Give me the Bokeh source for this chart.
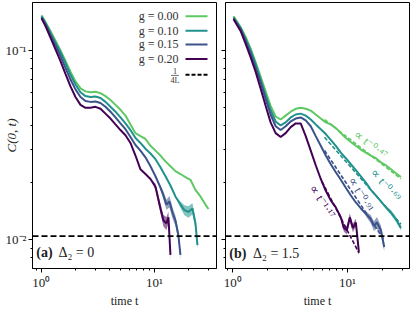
import math
from bokeh.plotting import figure
from bokeh.layouts import row
from bokeh.models import Range1d, FixedTicker, Span, Label
from bokeh.embed import file_html
from bokeh.resources import INLINE

# ---------------- data ----------------
g_labels = ["g = 0.00", "g = 0.10", "g = 0.15", "g = 0.20"]
colors = ["#5ec962", "#21918c", "#3b528b", "#440154"]
L_size = 24  # 1/(4L) reference level

# panel (a): Delta_2 = 0
t_a_base = [1.006, 1.091, 1.208, 1.337, 1.480, 1.638, 1.814, 2.008, 2.223, 2.460, 2.724, 3.015, 3.337,
            3.694, 4.090, 4.527, 5.011, 5.548, 6.141, 6.798, 7.523, 8.329, 9.220, 10.21, 11.30]
t_a_g000 = t_a_base + [12.51, 13.84, 15.32, 16.96, 18.78, 20.78, 23.01, 25.47, 28.19, 29.97]
C_a_g000 = [0.1532, 0.1410, 0.1267, 0.1126, 0.1000, 0.0878, 0.0771, 0.0685, 0.0629, 0.0607, 0.0600, 0.0604,
            0.0594, 0.0573, 0.0546, 0.0515, 0.0485, 0.0452, 0.0406, 0.0365, 0.0352, 0.0340, 0.0313, 0.0295,
            0.0278, 0.0259, 0.0244, 0.0230, 0.0222, 0.0214, 0.0207, 0.0183, 0.0169, 0.0153, 0.0145]
E_a_g000 = [0.0] * 35

t_a_g010 = t_a_base + [12.51, 13.84, 15.32, 16.96, 18.40, 19.96, 21.65, 23.01, 23.96]
C_a_g010 = [0.1514, 0.1394, 0.1237, 0.1100, 0.0977, 0.0857, 0.0743, 0.0660, 0.0600, 0.0573, 0.0567, 0.0570,
            0.0560, 0.0534, 0.0503, 0.0474, 0.0442, 0.0411, 0.0379, 0.0344, 0.0324, 0.0302, 0.0285, 0.0266,
            0.0241, 0.0216, 0.0193, 0.0169, 0.0153, 0.0143, 0.0140, 0.0146, 0.0122, 0.00935]
E_a_g010 = [0.0] * 28 + [0.04, 0.06, 0.07, 0.07, 0.06, 0.05]

t_a_g015 = t_a_base + [12.01, 12.76, 13.56, 14.42, 15.32, 16.28, 16.96]
C_a_g015 = [0.1496, 0.1377, 0.1208, 0.1061, 0.0932, 0.0808, 0.0701, 0.0622, 0.0567, 0.0540, 0.0534, 0.0537,
            0.0527, 0.0503, 0.0474, 0.0442, 0.0411, 0.0383, 0.0348, 0.0316, 0.0295, 0.0272, 0.0244, 0.0216,
            0.0188, 0.0171, 0.0153, 0.0159, 0.0139, 0.0126, 0.0105, 0.00830]
E_a_g015 = [0.0] * 24 + [0.03, 0.05, 0.06, 0.07, 0.07, 0.06, 0.06, 0.05]

t_a_g020 = t_a_base + [12.01, 12.76, 13.29, 13.84]
C_a_g020 = [0.1479, 0.1345, 0.1166, 0.1012, 0.0878, 0.0752, 0.0645, 0.0567, 0.0515, 0.0497, 0.0497, 0.0503,
            0.0491, 0.0463, 0.0436, 0.0406, 0.0379, 0.0356, 0.0324, 0.0278, 0.0235, 0.0222, 0.0209, 0.0190,
            0.0146, 0.0126, 0.0122, 0.0131, 0.00830]
E_a_g020 = [0.0] * 23 + [0.04, 0.06, 0.07, 0.08, 0.07, 0.06]

# panel (b): Delta_2 = 1.5
t_b_base = [1.014, 1.168, 1.291, 1.428, 1.579, 1.746, 1.931, 2.135, 2.362, 2.612, 2.888, 3.194, 3.532,
            3.906, 4.320, 4.777, 5.283, 5.843, 6.461, 7.145, 7.902, 8.739]
t_b_g000 = t_b_base + [9.663, 10.69, 11.82, 13.07, 14.45, 15.98, 17.68, 19.55, 21.62, 23.91, 26.44, 29.24]
C_b_g000 = [0.1514, 0.1329, 0.1180, 0.1024, 0.0867, 0.0726, 0.0607, 0.0509, 0.0447, 0.0431, 0.0452, 0.0474,
            0.0491, 0.0497, 0.0491, 0.0480, 0.0458, 0.0436, 0.0416, 0.0406, 0.0388, 0.0365, 0.0344, 0.0328,
            0.0313, 0.0299, 0.0288, 0.0278, 0.0269, 0.0256, 0.0247, 0.0235, 0.0224, 0.0214]
E_b_g000 = [0.0] * 34

t_b_g010 = t_b_g000
C_b_g010 = [0.1496, 0.1313, 0.1153, 0.1000, 0.0847, 0.0701, 0.0580, 0.0485, 0.0421, 0.0401, 0.0416, 0.0442,
            0.0458, 0.0463, 0.0452, 0.0431, 0.0406, 0.0383, 0.0361, 0.0336, 0.0313, 0.0288, 0.0269, 0.0250,
            0.0233, 0.0216, 0.0200, 0.0183, 0.0171, 0.0159, 0.0148, 0.0139, 0.0128, 0.0115]
E_b_g010 = [0.0] * 30 + [0.02, 0.03, 0.03, 0.03]

t_b_g015 = t_b_base + [9.663, 10.69, 11.82, 13.07, 14.45, 15.98, 16.98, 18.04, 19.55, 20.89]
C_b_g015 = [0.1479, 0.1297, 0.1126, 0.0965, 0.0808, 0.0677, 0.0553, 0.0458, 0.0397, 0.0379, 0.0397, 0.0421,
            0.0436, 0.0442, 0.0426, 0.0397, 0.0352, 0.0313, 0.0278, 0.0250, 0.0227, 0.0207, 0.0188, 0.0171,
            0.0157, 0.0146, 0.0137, 0.0128, 0.0118, 0.0123, 0.0112, 0.00913]
E_b_g015 = [0.0] * 26 + [0.03, 0.05, 0.06, 0.07, 0.06, 0.05]

t_b_g020 = t_b_base + [9.28, 9.86, 10.47, 11.13, 11.82, 12.56]
C_b_g020 = [0.1461, 0.1267, 0.1086, 0.0921, 0.0771, 0.0629, 0.0509, 0.0416, 0.0365, 0.0348, 0.0365, 0.0393,
            0.0411, 0.0411, 0.0352, 0.0295, 0.0247, 0.0209, 0.0181, 0.0161, 0.0148, 0.0131, 0.0115, 0.0112,
            0.0131, 0.0115, 0.0123, 0.00860]
E_b_g020 = [0.0] * 21 + [0.03, 0.04, 0.05, 0.05, 0.05, 0.05, 0.04]

# power-law fits in panel (b):  C ~ amp * t^(-alpha)
fit_alpha = [0.47, 0.69, 0.91, 1.17]
fit_amp = [0.1023, 0.1237, 0.1578, 0.1643]
fit_t_start = [6.3, 6.3, 6.3, 6.0]
fit_t_end = [29.2, 29.2, 20.9, 12.6]
fit_labels = ["∝ t⁻⁰·⁴⁷", "∝ t⁻⁰·⁶⁹", "∝ t⁻⁰·⁹¹", "∝ t⁻¹·¹⁷"]

x_ticks = [1, 10]
x_minor = [0.9, 2, 3, 4, 5, 6, 7, 8, 9, 20, 30]
y_ticks = [0.01, 0.1]
y_minor = [0.008, 0.009, 0.02, 0.03, 0.04, 0.05, 0.06, 0.07, 0.08, 0.09]

# ---------------- styling ----------------
FONT = "Liberation Serif"
Y_RANGE = (0.00703, 0.179)
FRAME_W, FRAME_H = 184, 266


def make_fig(xr, border_left, border_right, ylabels):
    p = figure(x_axis_type="log", y_axis_type="log",
               x_range=Range1d(*xr), y_range=Range1d(*Y_RANGE),
               frame_width=FRAME_W, frame_height=FRAME_H,
               min_border_left=border_left, min_border_right=border_right,
               min_border_top=2, min_border_bottom=10,
               toolbar_location=None, output_backend="svg")
    p.xgrid.visible = False
    p.ygrid.visible = False
    p.outline_line_color = "black"
    p.outline_line_width = 1
    p.outline_line_alpha = 1
    p.background_fill_color = "white"
    p.border_fill_color = "white"
    for ax in (p.xaxis[0], p.yaxis[0]):
        ax.axis_line_color = "black"
        ax.major_tick_line_color = "black"
        ax.minor_tick_line_color = "black"
        ax.major_tick_out = 4
        ax.major_tick_in = 0
        ax.minor_tick_out = 2
        ax.minor_tick_in = 0
        ax.major_label_text_font = FONT
        ax.major_label_text_font_size = "13px"
        ax.major_label_text_color = "#222222"
        ax.major_label_standoff = 2
    p.xaxis.ticker = FixedTicker(ticks=x_ticks, minor_ticks=x_minor)
    p.yaxis.ticker = FixedTicker(ticks=y_ticks, minor_ticks=y_minor)
    p.xaxis.major_label_overrides = {1: "10⁰", 10: "10¹"}
    if ylabels:
        p.yaxis.major_label_overrides = {0.1: "10⁻¹", 0.01: "10⁻²"}
        p.yaxis.axis_label = "C(0, t)"
        p.yaxis.axis_label_text_font = FONT
        p.yaxis.axis_label_text_font_style = "italic"
        p.yaxis.axis_label_text_font_size = "13px"
        p.yaxis.axis_label_text_color = "#222222"
        p.yaxis.axis_label_standoff = -16
    else:
        p.yaxis.major_label_overrides = {0.1: "", 0.01: ""}
        p.yaxis.major_label_standoff = 0
    p.xaxis.axis_label = "time t"
    p.xaxis.axis_label_text_font = FONT
    p.xaxis.axis_label_text_font_style = "normal"
    p.xaxis.axis_label_text_font_size = "12px"
    p.xaxis.axis_label_standoff = 1
    p.xaxis.axis_label_text_color = "#222222"
    return p


def draw_curves(p, curves):
    for (t, c, e), col in zip(curves, colors):
        lo = [ci * (1 - ei) for ci, ei in zip(c, e)]
        hi = [ci * (1 + ei) for ci, ei in zip(c, e)]
        p.varea(x=t, y1=lo, y2=hi, fill_color=col, fill_alpha=0.55)
        p.line(t, c, line_color=col, line_width=2)
    p.add_layout(Span(location=1.0 / (4 * L_size), dimension="width", line_color="black",
                      line_dash="6 3", line_width=1.8))


# ---------------- panel (a) ----------------
pa = make_fig((0.838, 35.3), 24, 4, True)
draw_curves(pa, [(t_a_g000, C_a_g000, E_a_g000), (t_a_g010, C_a_g010, E_a_g010),
                 (t_a_g015, C_a_g015, E_a_g015), (t_a_g020, C_a_g020, E_a_g020)])

# legend (label first, then line sample)
leg_y = [0.1514, 0.1268, 0.1074, 0.0899]
for lab, col, yy in zip(g_labels, colors, leg_y):
    pa.add_layout(Label(x=16.3, y=yy, text=lab, text_align="right", text_baseline="middle",
                        text_font=FONT, text_font_size="12px", text_color="#333333"))
    pa.line([18.8, 29.4], [yy, yy], line_color=col, line_width=2)
pa.line([18.8, 29.4], [0.0743, 0.0743], line_color="black", line_width=2, line_dash="4 2")
pa.add_layout(Label(x=15.2, y=0.0773, text="1", text_align="center", text_baseline="middle",
                    text_font=FONT, text_font_size="8px", text_color="#333333"))
pa.add_layout(Label(x=15.2, y=0.0697, text="4L", text_align="center", text_baseline="middle",
                    text_font=FONT, text_font_size="8px", text_color="#333333"))
pa.line([14.0, 16.4], [0.0737, 0.0737], line_color="#333333", line_width=0.7)

pa.add_layout(Label(x=0.905, y=0.00851, text="(a)", text_align="left", text_baseline="middle",
                    text_font=FONT, text_font_style="bold", text_font_size="14px", text_color="#222222"))
pa.add_layout(Label(x=1.42, y=0.00851, text="Δ₂ = 0", text_align="left", text_baseline="middle",
                    text_font=FONT, text_font_size="14px", text_color="#222222"))

# ---------------- panel (b) ----------------
pb = make_fig((0.863, 34.7), 5, 1, False)
draw_curves(pb, [(t_b_g000, C_b_g000, E_b_g000), (t_b_g010, C_b_g010, E_b_g010),
                 (t_b_g015, C_b_g015, E_b_g015), (t_b_g020, C_b_g020, E_b_g020)])

for a, amp, t0, t1, col in zip(fit_alpha, fit_amp, fit_t_start, fit_t_end, colors):
    pb.line([t0, t1], [amp * t0 ** (-a), amp * t1 ** (-a)], line_color=col, line_width=1.6,
            line_dash="4 2")

fit_lab_t = [15.6, 21.2, 12.9, 6.0]
fit_lab_C = [0.0322, 0.0197, 0.0176, 0.0160]
fit_lab_angle = [-0.66, -0.84, -1.05, -1.0]
for txt, tt, cc, ang, col in zip(fit_labels, fit_lab_t, fit_lab_C, fit_lab_angle, colors):
    pb.add_layout(Label(x=tt, y=cc, text=txt, angle=ang, text_align="center", text_baseline="middle",
                        text_font=FONT, text_font_size="12px", text_color=col))

pb.add_layout(Label(x=0.932, y=0.00845, text="(b)", text_align="left", text_baseline="middle",
                    text_font=FONT, text_font_style="bold", text_font_size="14px", text_color="#222222"))
pb.add_layout(Label(x=1.50, y=0.00845, text="Δ₂ = 1.5", text_align="left", text_baseline="middle",
                    text_font=FONT, text_font_size="14px", text_color="#222222"))

layout = row(pa, pb, spacing=0)
open("out.html", "w").write(file_html(layout, INLINE))
